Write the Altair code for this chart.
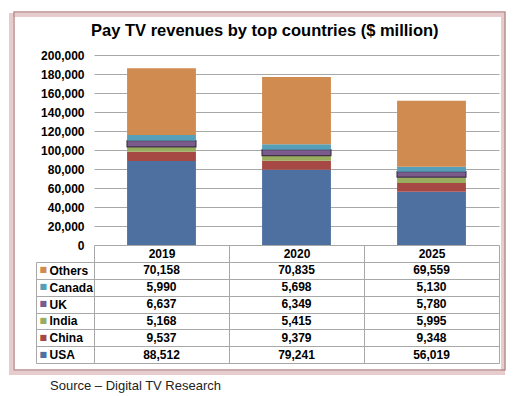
import altair as alt
import pandas as pd

years = ["2019", "2020", "2025"]
series = ["USA", "China", "India", "UK", "Canada", "Others"]
usa = [88512, 79241, 56019]
china = [9537, 9379, 9348]
india = [5168, 5415, 5995]
uk = [6637, 6349, 5780]
canada = [5990, 5698, 5130]
others = [70158, 70835, 69559]
colors = ["#4e70a0", "#a64844", "#98ae5e", "#7b5b8c", "#55a0b8", "#d08b50"]
y_ticks = [0, 20000, 40000, 60000, 80000, 100000, 120000, 140000, 160000, 180000, 200000]

rows = []
for s, vals in zip(series, [usa, china, india, uk, canada, others]):
    for yr, v in zip(years, vals):
        rows.append({"year": yr, "series": s, "value": v, "rank": series.index(s)})
df = pd.DataFrame(rows)

grid = "#a8a8a8"
font = "Liberation Sans"
table_order = series[::-1]

bars = alt.Chart(df).mark_bar(strokeWidth=1.2).encode(
    x=alt.X("year:N", axis=None,
            scale=alt.Scale(paddingInner=0.49, paddingOuter=0.245)),
    y=alt.Y("value:Q", stack="zero",
            scale=alt.Scale(domain=[0, 200000], nice=False),
            axis=alt.Axis(title=None, format=",.0f", values=y_ticks,
                          labelFont=font, labelFontWeight="bold", labelFontSize=12,
                          labelColor="black", labelPadding=10, ticks=False,
                          domain=False, gridColor=grid)),
    color=alt.Color("series:N", scale=alt.Scale(domain=series, range=colors), legend=None),
    order=alt.Order("rank:Q", sort="ascending"),
    stroke=alt.condition(alt.datum.series == "UK", alt.value("#3f3048"), alt.value("transparent")),
).properties(
    width=405, height=190,
    title=alt.TitleParams(
        text="Pay TV revenues by top countries ($ million)",
        font=font, fontSize=16.5, fontWeight="bold", color="black",
        anchor="middle", frame="bounds", offset=10, dx=-5,
    ),
)

y_scale = alt.Scale(type="band", domain=table_order, paddingInner=0, paddingOuter=0)

cells = alt.Chart(df).mark_text(font=font, fontWeight="bold", fontSize=12, color="black").encode(
    x=alt.X("year:N",
            scale=alt.Scale(type="band", paddingInner=0, paddingOuter=0),
            axis=alt.Axis(orient="top", title=None, labelAngle=0,
                          labelFont=font, labelFontWeight="bold", labelFontSize=12,
                          labelColor="black", labelBaseline="middle", labelPadding=-8.5,
                          ticks=True, tickSize=17, tickBand="extent", tickColor=grid,
                          grid=True, gridColor=grid, domain=True, domainColor=grid)),
    y=alt.Y("series:N", sort=table_order, scale=y_scale,
            axis=alt.Axis(orient="left", title=None,
                          labelFont=font, labelFontWeight="bold", labelFontSize=12,
                          labelColor="black", labelAlign="left", labelBaseline="middle",
                          labelPadding=-13,
                          ticks=True, tickSize=58, tickBand="extent", tickColor=grid,
                          grid=True, gridColor=grid, domain=True, domainColor=grid)),
    text=alt.Text("value:Q", format=","),
)

square_colors = {
    "condition": [
        {"test": f"datum.value == '{s}'", "value": c} for s, c in zip(series, colors)
    ],
    "value": "black",
}

squares = alt.Chart(df).mark_text(opacity=0).encode(
    y=alt.Y("series:N", sort=table_order, scale=y_scale,
            axis=alt.Axis(orient="left", title=None, offset=58, labelExpr="'■'",
                          labelFont="DejaVu Sans", labelFontSize=8, labelColor=square_colors,
                          labelAlign="left", labelBaseline="middle", labelPadding=-3,
                          ticks=False, grid=False, domain=True, domainColor=grid)),
    text=alt.value(""),
)

frame_df = pd.DataFrame({"f": [0]})
shadow = alt.Chart(frame_df).mark_rect(fillOpacity=0, stroke="#e6cccc", strokeWidth=4).encode(
    x=alt.value(-83), x2=alt.value(409), y=alt.value(-247), y2=alt.value(111)
)
frame = alt.Chart(frame_df).mark_rect(fillOpacity=0, stroke="#b98f8f", strokeWidth=1.5).encode(
    x=alt.value(-80), x2=alt.value(411), y=alt.value(-250), y2=alt.value(108)
)

table = alt.layer(shadow, frame, cells, squares).resolve_axis(y="independent").properties(
    width=405, height=101,
    title=alt.TitleParams(
        text="Source – Digital TV Research", orient="bottom", anchor="start",
        frame="group",
        font=font, fontSize=13, fontWeight="normal", color="#222222",
        dx=-44, offset=5,
    ),
)

chart = alt.vconcat(bars, table, spacing=17, bounds="flush").properties(
    padding={"left": 1, "top": 3, "right": 0, "bottom": 2}
).configure_view(strokeWidth=0)

chart.save("out.html", embed_options={"renderer": "svg", "actions": False})
